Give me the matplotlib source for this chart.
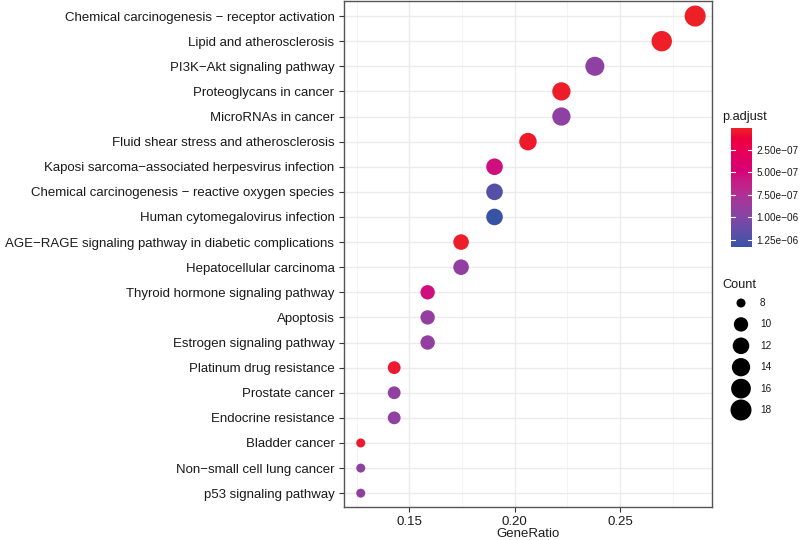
import numpy as np
import matplotlib
matplotlib.use("Agg")
import matplotlib.pyplot as plt
from matplotlib.colors import ListedColormap, Normalize

plt.rcParams['font.family'] = ['Liberation Sans', 'DejaVu Sans']

# ---------------- data ----------------
pathways = [
    "Chemical carcinogenesis \u2212 receptor activation",
    "Lipid and atherosclerosis",
    "PI3K\u2212Akt signaling pathway",
    "Proteoglycans in cancer",
    "MicroRNAs in cancer",
    "Fluid shear stress and atherosclerosis",
    "Kaposi sarcoma\u2212associated herpesvirus infection",
    "Chemical carcinogenesis \u2212 reactive oxygen species",
    "Human cytomegalovirus infection",
    "AGE\u2212RAGE signaling pathway in diabetic complications",
    "Hepatocellular carcinoma",
    "Thyroid hormone signaling pathway",
    "Apoptosis",
    "Estrogen signaling pathway",
    "Platinum drug resistance",
    "Prostate cancer",
    "Endocrine resistance",
    "Bladder cancer",
    "Non\u2212small cell lung cancer",
    "p53 signaling pathway",
]
counts = [18, 17, 15, 14, 14, 13, 12, 12, 12, 11, 11, 10, 10, 10, 9, 9, 9, 8, 8, 8]
total_genes = 63
gene_ratio = [c / total_genes for c in counts]
p_adjust = [1.0e-8, 2.0e-8, 9.4e-7, 3.5e-8, 9.4e-7, 4.0e-8, 5.4e-7, 1.22e-6, 1.33e-6,
            3.0e-8, 9.2e-7, 5.4e-7, 9.1e-7, 9.2e-7, 4.5e-8, 9.2e-7, 9.3e-7, 5.0e-8,
            9.3e-7, 9.3e-7]
x_ticks = [0.15, 0.20, 0.25]
x_tick_labels = ["0.15", "0.20", "0.25"]
cbar_ticks = [2.5e-7, 5.0e-7, 7.5e-7, 1.0e-6, 1.25e-6]
cbar_tick_labels = ["2.50e\u221207", "5.00e\u221207", "7.50e\u221207", "1.00e\u221206", "1.25e\u221206"]
size_breaks = [8, 10, 12, 14, 16, 18]

# ---------------- colour scale (polar Lab interpolation) ----------------
def hex2rgb(h):
    h = h.lstrip('#')
    return np.array([int(h[i:i + 2], 16) / 255 for i in (0, 2, 4)])

def rgb2lab(rgb):
    c = np.where(rgb > 0.04045, ((rgb + 0.055) / 1.055) ** 2.4, rgb / 12.92)
    M = np.array([[0.4124, 0.3576, 0.1805], [0.2126, 0.7152, 0.0722], [0.0193, 0.1192, 0.9505]])
    xyz = M @ c
    xyz = xyz / np.array([0.95047, 1.0, 1.08883])
    f = np.where(xyz > 0.008856, np.cbrt(xyz), 7.787 * xyz + 16 / 116)
    return np.array([116 * f[1] - 16, 500 * (f[0] - f[1]), 200 * (f[1] - f[2])])

def lab2rgb(lab):
    L, a, b = lab
    fy = (L + 16) / 116
    fx = fy + a / 500
    fz = fy - b / 200
    f = np.array([fx, fy, fz])
    xyz = np.where(f ** 3 > 0.008856, f ** 3, (f - 16 / 116) / 7.787)
    xyz = xyz * np.array([0.95047, 1.0, 1.08883])
    Minv = np.array([[3.2406, -1.5372, -0.4986], [-0.9689, 1.8758, 0.0415], [0.0557, -0.2040, 1.0570]])
    c = Minv @ xyz
    c = np.where(c > 0.0031308, 1.055 * np.clip(c, 0, None) ** (1 / 2.4) - 0.055, 12.92 * c)
    return np.clip(c, 0, 1)

def to_lch(lab):
    return np.array([lab[0], np.hypot(lab[1], lab[2]), np.degrees(np.arctan2(lab[2], lab[1]))])

low_col, high_col = "#EE2027", "#3953A4"
lch_lo, lch_hi = to_lch(rgb2lab(hex2rgb(low_col))), to_lch(rgb2lab(hex2rgb(high_col)))
dh = (lch_hi[2] - lch_lo[2] + 180) % 360 - 180
cols = []
for t in np.linspace(0, 1, 256):
    L = lch_lo[0] + t * (lch_hi[0] - lch_lo[0])
    C = lch_lo[1] + t * (lch_hi[1] - lch_lo[1])
    h = np.radians(lch_lo[2] + t * dh)
    cols.append(lab2rgb(np.array([L, C * np.cos(h), C * np.sin(h)])))
cmap = ListedColormap(cols)
norm = Normalize(vmin=min(p_adjust), vmax=max(p_adjust))

# ---------------- size scale ----------------
cmin, cmax = min(counts), max(counts)
def diam_px(c):
    return 9 + 12 * np.sqrt((c - cmin) / (cmax - cmin))
def marker_area(c):
    return (diam_px(np.asarray(c, dtype=float)) * 0.72) ** 2

# ---------------- figure ----------------
W, H = 800, 540
fig = plt.figure(figsize=(8, 5.4), dpi=100)

def frac(x0, y0, x1, y1):
    return [x0 / W, 1 - y1 / H, (x1 - x0) / W, (y1 - y0) / H]

ax = fig.add_axes(frac(343.5, 1, 712, 507))
n = len(pathways)
ypos = np.arange(n)[::-1]
ax.scatter(gene_ratio, ypos, s=marker_area(counts), c=p_adjust, cmap=cmap, norm=norm,
           edgecolors='none', zorder=3)

ax.set_xlim(0.1188, 0.2937)
ax.set_ylim(-0.55, n - 1 + 0.6)
ax.set_xticks(x_ticks)
ax.set_xticklabels(x_tick_labels)
ax.set_xticks([0.125, 0.175, 0.225, 0.275], minor=True)
ax.set_yticks(ypos)
ax.set_yticklabels(pathways)
ax.tick_params(axis='both', which='major', length=3.5, width=0.8, color='#333333',
               labelsize=9.5, labelcolor='#1a1a1a', pad=3)
ax.tick_params(axis='x', which='minor', length=0)
ax.grid(True, which='major', color='#EBEBEB', linewidth=1.0, zorder=0)
ax.grid(True, which='minor', axis='x', color='#F3F3F3', linewidth=0.6, zorder=0)
ax.set_axisbelow(True)
for sp in ax.spines.values():
    sp.set_color('#555555')
    sp.set_linewidth(1.0)
ax.set_xlabel("GeneRatio", fontsize=9.5, color='#1a1a1a', labelpad=0)

# ---------------- colour bar ----------------
cax = fig.add_axes(frac(731, 128, 752, 247))
cb = fig.colorbar(plt.cm.ScalarMappable(norm=norm, cmap=cmap), cax=cax)
cb.outline.set_visible(False)
cax.invert_yaxis()
cb.set_ticks(cbar_ticks)
cb.set_ticklabels(cbar_tick_labels)
cax.tick_params(length=0, labelsize=7.2, labelcolor='#1a1a1a', pad=3)
for t in cbar_ticks:
    cax.plot([0, 0.2], [t, t], color='white', lw=0.8, transform=cax.get_yaxis_transform())
    cax.plot([0.8, 1.0], [t, t], color='white', lw=0.8, transform=cax.get_yaxis_transform())
fig.text(722 / W, 1 - 117 / H, "p.adjust", fontsize=9.2, color='#1a1a1a', va='center', ha='left')

# ---------------- size legend ----------------
lax = fig.add_axes([0, 0, 1, 1])
lax.set_xlim(0, W)
lax.set_ylim(H, 0)
lax.axis('off')
fig.text(722 / W, 1 - 285 / H, "Count", fontsize=9.2, color='#1a1a1a', va='center', ha='left')
leg_y = 303 + 21.4 * np.arange(len(size_breaks))
lax.scatter(np.full(len(size_breaks), 741), leg_y, s=marker_area(size_breaks), color='black',
            edgecolors='none')
for yy, b in zip(leg_y, size_breaks):
    lax.text(760, yy, str(b), fontsize=7.2, color='#1a1a1a', va='center', ha='left')

fig.savefig("out.png", dpi=100)
